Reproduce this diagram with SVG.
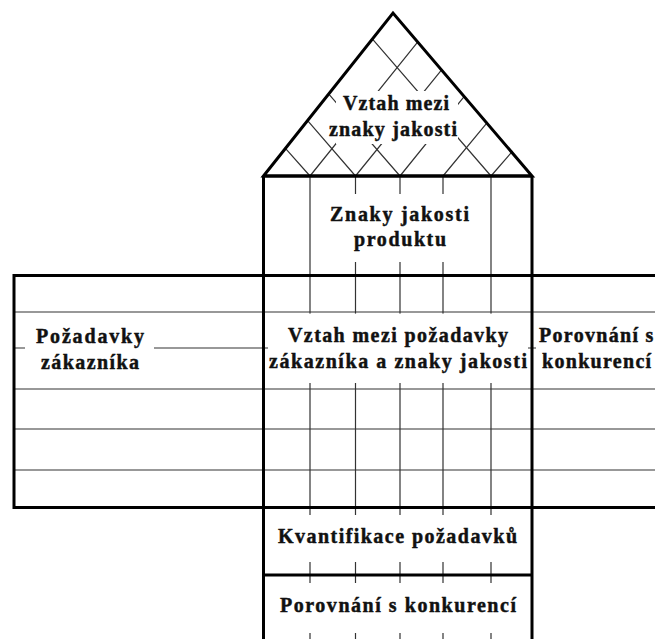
<svg xmlns="http://www.w3.org/2000/svg" width="655" height="639" viewBox="0 0 655 639">
  <style>
    .thin { stroke: #333; stroke-width: 1.2; fill: none; }
    .thick { stroke: #000; stroke-width: 3; fill: none; stroke-linejoin: miter; }
    .mask { fill: #fff; stroke: none; }
    .lbl { font-family: "Liberation Serif", "Times New Roman", serif; font-weight: bold; font-size: 20px; fill: #111; stroke: #111; stroke-width: 0.45; }
  </style>
  <rect width="655" height="639" fill="#fff"/>

  <!-- thin grid: column dividers, row dividers and roof lattice -->
  <g id="grid" class="thin">
    <path d="M310 176V639 M355.5 176V639 M400 176V639 M443 176V639 M491 176V639"/>
    <path d="M14 312H655 M14 348H655 M14 389H655 M14 429H655 M14 470H655"/>
    <path d="M285.2 148.2L310 176 M307.4 120.4L355.5 176 M328.6 93.8L400 176 M372.3 38.9L491 176"/>
    <path d="M310 176L417.8 41.9 M355.5 176L441.8 69.6 M400 176L464.5 96.2 M443 176L487.6 122.1 M491 176L512.6 151.1"/>
  </g>

  <!-- roof: correlations between quality characteristics -->
  <g id="roof">
    <rect class="mask" x="336" y="91" width="122" height="53"/>
    <path class="thick" d="M263.5 176L393 13L532 176Z"/>
    <text class="lbl" x="343" y="110" textLength="106" lengthAdjust="spacing">Vztah mezi</text>
    <text class="lbl" x="329" y="136" textLength="128" lengthAdjust="spacing">znaky jakosti</text>
  </g>

  <!-- quality characteristics of the product -->
  <g id="characteristics">
    <rect class="mask" x="316" y="194" width="169" height="68"/>
    <text class="lbl" x="330" y="221" textLength="139" lengthAdjust="spacing">Znaky jakosti</text>
    <text class="lbl" x="354" y="246" textLength="92" lengthAdjust="spacing">produktu</text>
  </g>

  <!-- customer requirements -->
  <g id="requirements">
    <rect class="mask" x="25" y="318" width="129" height="66"/>
    <text class="lbl" x="36" y="343" textLength="108" lengthAdjust="spacing">Požadavky</text>
    <text class="lbl" x="41" y="369" textLength="98" lengthAdjust="spacing">zákazníka</text>
  </g>

  <!-- relationship matrix -->
  <g id="matrix">
    <rect class="mask" x="268" y="313.6" width="260" height="69.4"/>
    <text class="lbl" x="288" y="342" textLength="220" lengthAdjust="spacing">Vztah mezi požadavky</text>
    <text class="lbl" x="269" y="368" textLength="258" lengthAdjust="spacing">zákazníka a znaky jakosti</text>
  </g>

  <!-- competitive comparison (side) -->
  <g id="comparison-side">
    <rect class="mask" x="536" y="318" width="119" height="66"/>
    <text class="lbl" x="539" y="342" letter-spacing="1.3">Porovnání s</text>
    <text class="lbl" x="542" y="368" letter-spacing="1.3">konkurencí</text>
  </g>

  <!-- quantification of requirements -->
  <g id="quantification">
    <rect class="mask" x="268" y="515" width="260" height="47"/>
    <text class="lbl" x="278" y="543" textLength="239" lengthAdjust="spacing">Kvantifikace požadavků</text>
  </g>

  <!-- competitive comparison (bottom) -->
  <g id="comparison-bottom">
    <rect class="mask" x="268" y="583" width="260" height="50"/>
    <text class="lbl" x="280" y="612" textLength="236" lengthAdjust="spacing">Porovnání s konkurencí</text>
  </g>

  <!-- heavy frame -->
  <g id="frame" class="thick">
    <path d="M263.5 176H532 M263.5 176V639 M532 176V639"/>
    <path d="M655 275.5H14V507.5H655"/>
    <path d="M263.5 575H532"/>
  </g>
</svg>
